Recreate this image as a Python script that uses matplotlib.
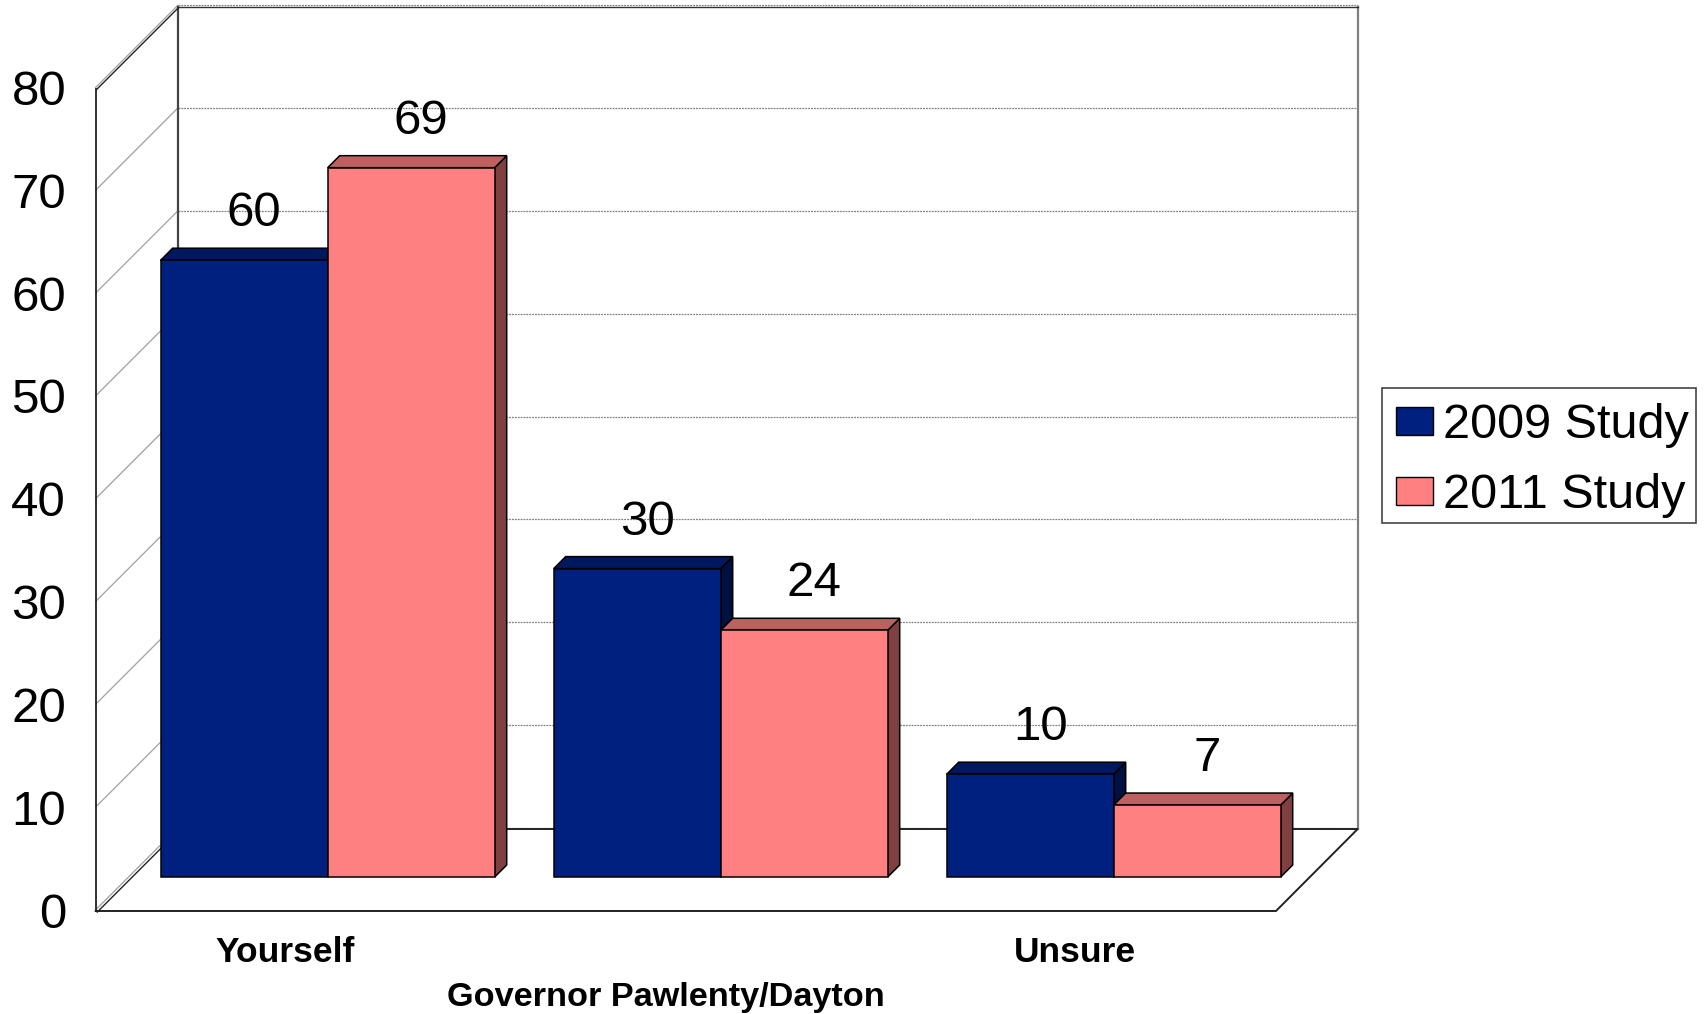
import matplotlib
matplotlib.use("Agg")
import matplotlib.pyplot as plt
from matplotlib.patches import Patch, Polygon, Rectangle

# ---- data ----
categories = ["Yourself", "Governor Pawlenty/Dayton", "Unsure"]
series_names = ["2009 Study", "2011 Study"]
values_2009 = [60, 30, 10]
values_2011 = [69, 24, 7]
y_ticks = [0, 10, 20, 30, 40, 50, 60, 70, 80]

# ---- styles ----
FRONT = ["#00207F", "#FF8080"]
TOP = ["#001860", "#BF6060"]
SIDE = ["#001040", "#804040"]

W, H = 1705, 1014
PX_UNIT_X = 393.0      # pixels per category step
PX_UNIT_Y = 10.28      # pixels per value unit
PX_X0 = 327.7          # pixel x of first category centre
PX_Y0 = 877.0          # pixel y of value 0 on the bars' plane


def fx(px):
    return (px - PX_X0) / PX_UNIT_X


def fy(py):
    return (PX_Y0 - py) / PX_UNIT_Y


plt.rcParams["font.family"] = ["Liberation Sans", "DejaVu Sans"]
fig = plt.figure(figsize=(W / 100, H / 100), dpi=100, facecolor="white")
ax = fig.add_axes([0, 0, 1, 1])
ax.set_xlim(fx(0), fx(W))
ax.set_ylim(fy(H), fy(0))
ax.axis("off")

# ---- 3D box ----
back_off = fy(829)
front_off = fy(911)
grid_back_off = fy(827.8)
grid_front_off = fy(909.8)
xfl, xbl, xfr, xbr = fx(95.7), fx(177.7), fx(1276), fx(1357.7)
top = y_ticks[-1]

for t in y_ticks:
    ax.plot([xfl, xbl], [t + grid_front_off, t + grid_back_off], color="#a0a0a0", lw=0.9, zorder=1)
    ax.plot([xbl, xbr], [t + grid_back_off, t + grid_back_off], color="#808080", lw=0.9, ls=(0, (1.5, 0.8)), zorder=1)

ax.plot([xfl, xfl], [front_off, top + front_off], color="#222222", lw=1.3, zorder=2)
ax.plot([xbl, xbl], [back_off, top + back_off], color="#444444", lw=1.6, zorder=2)
ax.plot([xbr, xbr], [back_off, top + back_off], color="#808080", lw=1.6, zorder=2)
ax.plot([xbl, xbr], [top + back_off] * 2, color="#333333", lw=1.0, zorder=2)
ax.plot([xfl + 0.002, xbl + 0.002], [top + front_off - 0.1, top + back_off - 0.1], color="#222222", lw=1.0, zorder=2)
ax.plot([xfl + 0.004, xbl + 0.004], [front_off - 0.1, back_off - 0.1], color="#222222", lw=1.0, zorder=2)
ax.plot([xfl, xfr, xbr, xbl], [front_off, front_off, back_off, back_off], color="#222222", lw=1.4, zorder=2)

# ---- bars ----
bar_w = 167.0 / PX_UNIT_X
dx, dy = 12.0 / PX_UNIT_X, 12.0 / PX_UNIT_Y
for s, vals in enumerate([values_2009, values_2011]):
    z = 3 + s
    offset = (s - 1) * bar_w
    for i, v in enumerate(vals):
        xl = i + offset
        xr = xl + bar_w
        ax.add_patch(Polygon([(xr, 0), (xr + dx, dy), (xr + dx, v + dy), (xr, v)], closed=True,
                             fc=SIDE[s], ec="black", lw=1.1, zorder=z))
        ax.add_patch(Polygon([(xl, v), (xl + dx, v + dy), (xr + dx, v + dy), (xr, v)], closed=True,
                             fc=TOP[s], ec="black", lw=1.1, zorder=z))
    ax.bar([i + offset for i in range(len(vals))], vals, width=bar_w, align="edge",
           color=FRONT[s], edgecolor="black", linewidth=1.1, zorder=z + 0.5)
    for i, v in enumerate(vals):
        ax.text(i + offset + bar_w / 2 + 10 / PX_UNIT_X, v + 46.5 / PX_UNIT_Y, str(v),
                ha="center", va="center", fontsize=35.5, color="black", zorder=10)

# ---- tick labels ----
for t in y_ticks:
    ax.text(fx(66), t + front_off - 4 / PX_UNIT_Y, str(t), ha="right", va="center", fontsize=35.5, color="black")

label_px = [(285, 952.5), (665.5, 997.5), (1075, 952.5)]
label_sizes = [25.5, 24.7, 25.5]
for name, (px, py), size in zip(categories, label_px, label_sizes):
    ax.text(fx(px), fy(py), name, ha="center", va="center", fontsize=size,
            fontweight="bold", color="black")

# ---- legend ----
ax.add_patch(Rectangle((fx(1382), fy(522.7)), fx(1695.7) - fx(1382), fy(388) - fy(522.7),
                       fc="white", ec="#444444", lw=1.2, zorder=8))
handles = [Patch(facecolor=FRONT[i], edgecolor="black", linewidth=1.0, label=series_names[i]) for i in range(2)]
leg = ax.legend(handles=handles, loc="center left", bbox_to_anchor=(1395.5 / W, 1 - 460.8 / H),
                bbox_transform=fig.transFigure, fontsize=35, frameon=False,
                borderpad=0, handlelength=0.78, handleheight=0.5,
                handletextpad=0.2, labelspacing=0.51, borderaxespad=0)
leg.set_zorder(9)

fig.savefig("out.png", dpi=100, facecolor="white")
